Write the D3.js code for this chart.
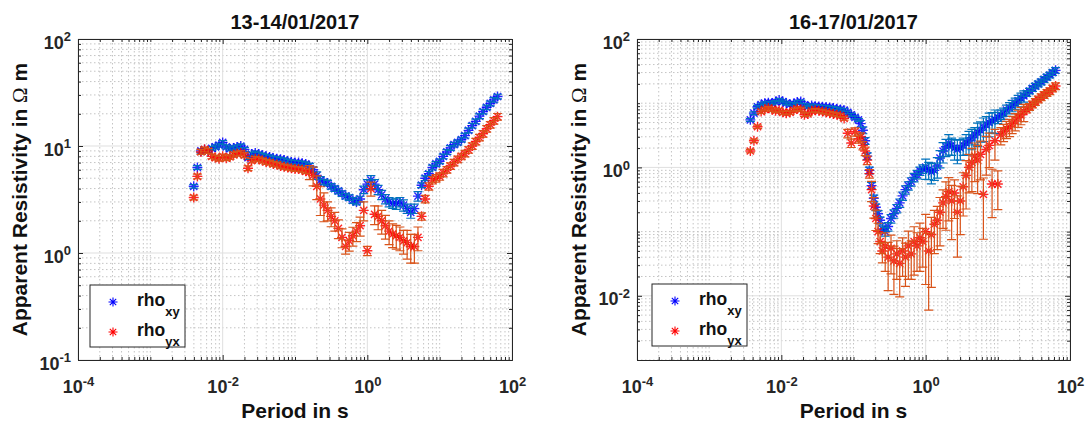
<!DOCTYPE html>
<html lang="en">
<head>
<meta charset="UTF-8" />
<title>Apparent resistivity</title>
<style>
  body { margin: 0; background: #fff; }
  svg { display: block; font-family: "Liberation Sans", Arial, sans-serif; }
  .tick text { font-size: 18px; font-weight: bold; fill: #262626; }
  .axis path, .axis line { stroke: #262626; }
  .grid-major { stroke: #dfdfdf; stroke-width: 1; }
  .grid-minor { stroke: #c4c4c4; stroke-width: 1; stroke-dasharray: 1.5,2.5; }
  .title, .label { font-weight: bold; fill: #111; }
</style>
</head>
<body>
<svg id="chart" width="1088" height="423"></svg>
<script src="https://d3js.org/d3.v7.min.js"></script>
<script>
  // ---- data ----
  const titles = ["13-14/01/2017", "16-17/01/2017"];
  const xTicks = [1e-4, 1e-2, 1, 1e2];
  const yTicksLeft = [1e-1, 1, 10, 100];
  const yTicksRight = [1e-2, 1, 1e2];
  const seriesNames = [["rho", "xy"], ["rho", "yx"]];

  const periodsLeft = [
    0.00398, 0.00447, 0.00501, 0.00562, 0.00631, 0.00708, 0.00794, 0.00891, 0.0100, 0.0112,
    0.0126, 0.0141, 0.0158, 0.0178, 0.0200, 0.0224, 0.0251, 0.0282, 0.0316, 0.0355,
    0.0398, 0.0447, 0.0501, 0.0562, 0.0631, 0.0708, 0.0794, 0.0891, 0.100, 0.112,
    0.126, 0.141, 0.158, 0.178, 0.200, 0.224, 0.251, 0.282, 0.316, 0.355,
    0.398, 0.447, 0.501, 0.562, 0.631, 0.708, 0.794, 0.891, 1.00, 1.12,
    1.26, 1.41, 1.58, 1.78, 2.00, 2.24, 2.51, 2.82, 3.16, 3.55,
    3.98, 4.47, 5.01, 5.62, 6.31, 7.08, 7.94, 8.91, 10.0, 11.2,
    12.6, 14.1, 15.8, 17.8, 20.0, 22.4, 25.1, 28.2, 31.6, 35.5,
    39.8, 44.7, 50.1, 56.2, 63.1
  ];
  const rhoXYLeft = [
    4.2, 6.3, 9.0, 9.2, 9.0, 9.5, 9.8, 10.2, 10.8, 9.8,
    9.4, 9.6, 9.8, 10.0, 9.3, 7.8, 8.4, 8.6, 8.4, 8.2,
    8.0, 7.9, 7.7, 7.6, 7.5, 7.4, 7.2, 7.1, 7.0, 7.0,
    6.9, 6.8, 6.5, 6.0, 5.3, 4.8, 4.6, 4.5, 4.2, 4.0,
    3.8, 3.6, 3.4, 3.3, 3.1, 3.0, 3.2, 3.9, 4.4, 4.8,
    4.4, 3.9, 3.5, 3.2, 3.0, 2.9, 2.9, 3.0, 2.8, 2.6,
    2.4, 2.6, 3.4, 4.3, 5.0, 5.5, 6.3, 6.8, 7.2, 8.0,
    8.8, 9.6, 10.3, 10.8, 11.5, 12.5, 14.0, 15.5, 17.0, 19.0,
    21.0, 23.0, 25.0, 27.0, 29.0
  ];
  const rhoYXLeft = [
    3.3, 5.2, 8.8, 9.3, 9.0, 8.0, 7.8, 7.6, 8.0, 7.7,
    7.9, 8.3, 8.5, 8.6, 8.2, 6.2, 7.3, 7.6, 7.5, 7.3,
    7.1, 7.0, 6.8, 6.7, 6.5, 6.4, 6.3, 6.2, 6.1, 6.1,
    6.0, 5.8, 5.7, 5.3, 4.2, 3.2, 2.8, 2.5, 2.2, 2.0,
    1.7, 1.4, 1.15, 1.3, 1.45, 1.6, 1.8, 2.5, 1.05, 4.0,
    2.3, 2.2, 2.0, 1.8, 1.6, 1.5, 1.45, 1.4, 1.3, 1.25,
    1.15, 1.15, 1.4, 2.2, 3.2, 4.2, 4.8, 5.0, 5.2, 5.6,
    6.0, 6.5, 7.0, 7.5, 8.0, 8.5, 9.2, 10.0, 11.0, 12.0,
    13.0, 14.5, 15.8, 17.2, 18.8
  ];
  // relative errors
  const errXYLeft = [
    0.04, 0.04, 0.04, 0.04, 0.04, 0.04, 0.04, 0.04, 0.04, 0.04,
    0.04, 0.04, 0.04, 0.04, 0.04, 0.04, 0.04, 0.04, 0.04, 0.04,
    0.04, 0.04, 0.04, 0.04, 0.04, 0.04, 0.04, 0.04, 0.04, 0.04,
    0.04, 0.04, 0.06, 0.06, 0.08, 0.08, 0.06, 0.06, 0.06, 0.06,
    0.06, 0.06, 0.06, 0.06, 0.06, 0.06, 0.06, 0.08, 0.1, 0.1,
    0.1, 0.1, 0.1, 0.1, 0.1, 0.1, 0.12, 0.1, 0.12, 0.1,
    0.12, 0.1, 0.1, 0.05, 0.05, 0.05, 0.05, 0.05, 0.05, 0.05,
    0.05, 0.05, 0.05, 0.05, 0.05, 0.05, 0.05, 0.05, 0.05, 0.05,
    0.05, 0.05, 0.05, 0.05, 0.05
  ];
  const errYXLeft = [
    0.05, 0.05, 0.05, 0.05, 0.05, 0.05, 0.05, 0.05, 0.05, 0.05,
    0.05, 0.05, 0.05, 0.05, 0.05, 0.05, 0.05, 0.05, 0.05, 0.05,
    0.05, 0.05, 0.05, 0.05, 0.05, 0.05, 0.05, 0.05, 0.05, 0.05,
    0.05, 0.05, 0.15, 0.2, 0.25, 0.3, 0.3, 0.2, 0.2, 0.2,
    0.2, 0.2, 0.15, 0.2, 0.2, 0.2, 0.2, 0.2, 0.1, 0.15,
    0.2, 0.25, 0.25, 0.25, 0.25, 0.25, 0.25, 0.25, 0.25, 0.3,
    0.3, 0.3, 0.25, 0.08, 0.08, 0.08, 0.08, 0.08, 0.08, 0.08,
    0.07, 0.07, 0.07, 0.07, 0.07, 0.07, 0.07, 0.07, 0.07, 0.07,
    0.07, 0.07, 0.07, 0.07, 0.07
  ];

  const periodsRight = [
    0.00372, 0.00417, 0.00468, 0.00525, 0.00589, 0.00661, 0.00741, 0.00832, 0.00933, 0.0105,
    0.0117, 0.0132, 0.0148, 0.0166, 0.0186, 0.0209, 0.0234, 0.0263, 0.0295, 0.0331,
    0.0372, 0.0417, 0.0468, 0.0525, 0.0589, 0.0661, 0.0741, 0.0832, 0.0933, 0.105,
    0.117, 0.126, 0.135, 0.145, 0.155, 0.166, 0.178, 0.191, 0.204, 0.219,
    0.234, 0.251, 0.275, 0.302, 0.331, 0.363, 0.398, 0.437, 0.479, 0.525,
    0.575, 0.631, 0.692, 0.759, 0.832, 0.912, 1.00, 1.10, 1.20, 1.32,
    1.45, 1.58, 1.74, 1.91, 2.09, 2.29, 2.51, 2.75, 3.02, 3.31,
    3.63, 3.98, 4.37, 4.79, 5.25, 5.75, 6.31, 6.92, 7.59, 8.32,
    9.12, 10.0, 11.0, 12.0, 13.2, 14.5, 15.8, 17.4, 19.1, 20.9,
    22.9, 25.1, 27.5, 30.2, 33.1, 36.3, 39.8, 43.7, 47.9, 52.5,
    57.5, 63.1
  ];
  const rhoXYRight = [
    5.5, 7.0, 8.8, 9.5, 10.0, 10.2, 10.0, 10.5, 11.2, 10.6,
    10.0, 9.6, 9.8, 10.4, 10.6, 9.4, 8.8, 9.2, 9.0, 8.9,
    8.8, 8.7, 8.6, 8.4, 8.2, 8.0, 7.8, 7.2, 6.6, 6.0,
    5.5, 4.8, 3.8, 2.6, 1.5, 0.9, 0.52, 0.33, 0.24, 0.19,
    0.15, 0.11, 0.1, 0.12, 0.16, 0.19, 0.23, 0.28, 0.36, 0.45,
    0.52, 0.6, 0.7, 0.78, 0.88, 0.95, 1.0, 0.92, 0.85, 0.9,
    1.05, 1.4, 1.8, 2.1, 2.4, 2.2, 2.0, 1.9, 2.0, 2.2,
    2.4, 2.6, 2.9, 3.2, 3.5, 3.8, 4.2, 4.6, 5.0, 5.3,
    5.6, 6.0, 6.5, 7.0, 7.8, 8.5, 9.2, 10.0, 11.0, 12.0,
    13.0, 14.2, 15.5, 17.0, 18.5, 20.0, 21.5, 23.5, 25.5, 27.5,
    30.0, 32.5
  ];
  const rhoYXRight = [
    1.8, 2.6, 4.3, 7.4, 8.0, 8.4, 8.0, 7.6, 7.8, 7.2,
    7.0, 7.2, 7.8, 8.2, 8.0, 6.6, 6.8, 7.6, 7.8, 7.6,
    7.4, 7.2, 7.0, 6.8, 6.6, 6.4, 5.8, 3.4, 2.4, 3.6,
    2.8, 3.0, 2.2, 1.8, 1.3, 0.8, 0.45, 0.25, 0.16, 0.1,
    0.07, 0.05, 0.06, 0.04, 0.055, 0.035, 0.045, 0.032, 0.05, 0.04,
    0.06, 0.045, 0.07, 0.06, 0.08, 0.07, 0.1, 0.05, 0.09, 0.13,
    0.15, 0.2, 0.28, 0.35, 0.42, 0.3, 0.4, 0.2, 0.3, 0.5,
    0.75, 1.0, 1.2, 1.5, 1.3, 1.6, 0.38, 1.9, 2.2, 0.55,
    2.6, 0.55, 3.2, 3.6, 4.0, 4.3, 4.8, 5.3, 6.0, 6.6,
    7.4, 8.0, 8.8, 9.6, 10.5, 11.5, 12.5, 13.5, 14.5, 15.5,
    17.0, 18.5
  ];
  const errXYRight = [
    0.05, 0.05, 0.05, 0.05, 0.05, 0.05, 0.05, 0.05, 0.05, 0.05,
    0.05, 0.05, 0.05, 0.05, 0.05, 0.05, 0.05, 0.05, 0.05, 0.05,
    0.05, 0.05, 0.05, 0.05, 0.05, 0.05, 0.05, 0.05, 0.05, 0.05,
    0.05, 0.12, 0.12, 0.12, 0.12, 0.12, 0.12, 0.12, 0.12, 0.12,
    0.12, 0.12, 0.15, 0.15, 0.15, 0.15, 0.15, 0.15, 0.15, 0.15,
    0.15, 0.15, 0.15, 0.15, 0.15, 0.15, 0.35, 0.3, 0.35, 0.3,
    0.35, 0.3, 0.35, 0.3, 0.35, 0.3, 0.35, 0.4, 0.35, 0.3,
    0.35, 0.4, 0.35, 0.3, 0.4, 0.35, 0.4, 0.35, 0.4, 0.35,
    0.4, 0.2, 0.2, 0.2, 0.2, 0.2, 0.2, 0.2, 0.2, 0.2,
    0.2, 0.1, 0.1, 0.1, 0.1, 0.1, 0.1, 0.1, 0.1, 0.1,
    0.1, 0.1
  ];
  const errYXRight = [
    0.06, 0.06, 0.06, 0.06, 0.06, 0.06, 0.06, 0.06, 0.06, 0.06,
    0.06, 0.06, 0.06, 0.06, 0.06, 0.06, 0.06, 0.06, 0.06, 0.06,
    0.06, 0.06, 0.06, 0.06, 0.06, 0.06, 0.06, 0.15, 0.15, 0.15,
    0.15, 0.15, 0.15, 0.15, 0.15, 0.15, 0.35, 0.35, 0.35, 0.35,
    0.35, 0.35, 0.6, 0.7, 0.6, 0.7, 0.6, 0.7, 0.6, 0.65,
    0.7, 0.6, 0.7, 0.6, 0.7, 0.6, 0.85, 0.88, 0.85, 0.65,
    0.65, 0.7, 0.6, 0.7, 0.65, 0.75, 0.6, 0.8, 0.7, 0.65,
    0.7, 0.6, 0.65, 0.6, 0.7, 0.6, 0.8, 0.6, 0.55, 0.7,
    0.5, 0.6, 0.3, 0.3, 0.3, 0.3, 0.3, 0.3, 0.3, 0.3,
    0.3, 0.12, 0.12, 0.12, 0.12, 0.12, 0.12, 0.12, 0.12, 0.12,
    0.12, 0.12
  ];

  // ---- layout ----
  const svg = d3.select("#chart");
  const plotTop = 39, plotBottom = 360;
  const colors = {
    xyMarker: "#0000ff", yxMarker: "#ff0000",
    xyBar: "#0072bd", yxBar: "#d95319", axis: "#262626"
  };
  const asterisk = "M-5,0H5M0,-5V5M-3.6,-3.6L3.6,3.6M-3.6,3.6L3.6,-3.6";
  const legendAsterisk = "M-4.5,0H4.5M0,-4.5V4.5M-3.2,-3.2L3.2,3.2M-3.2,3.2L3.2,-3.2";

  const panels = [
    { title: titles[0], periods: periodsLeft, xy: rhoXYLeft, yx: rhoYXLeft,
      exy: errXYLeft, eyx: errYXLeft, yDomain: [1e-1, 1e2], yTicks: yTicksLeft,
      left: 78, right: 512, legendX: 90, legendY: 285 },
    { title: titles[1], periods: periodsRight, xy: rhoXYRight, yx: rhoYXRight,
      exy: errXYRight, eyx: errYXRight, yDomain: [1e-3, 1e2], yTicks: yTicksRight,
      left: 637, right: 1070, legendX: 652, legendY: 284 }
  ];

  function minorValues(domain, majors) {
    const out = [];
    const lo = Math.floor(Math.log10(domain[0]) + 1e-9);
    const hi = Math.ceil(Math.log10(domain[1]) - 1e-9);
    for (let d = lo; d < hi; d++) {
      for (let m = 1; m < 10; m++) {
        const v = m * Math.pow(10, d);
        if (v < domain[0] * 0.999 || v > domain[1] * 1.001) continue;
        if (majors.some(t => Math.abs(t - v) / v < 1e-6)) continue;
        out.push(v);
      }
    }
    return out;
  }

  function powerLabel(sel) {
    sel.each(function (d) {
      const t = d3.select(this);
      const e = Math.round(Math.log10(d));
      t.text(null);
      t.append("tspan").text("10");
      t.append("tspan").attr("dy", "-0.55em").attr("font-size", "13px").text(e);
    });
  }

  panels.forEach((p, pi) => {
    const g = svg.append("g");
    const x = d3.scaleLog().domain([1e-4, 1e2]).range([p.left, p.right]);
    const y = d3.scaleLog().domain(p.yDomain).range([plotBottom, plotTop]);
    const xMinor = minorValues(x.domain(), xTicks);
    const yMinor = minorValues(y.domain(), p.yTicks);

    // grid
    const grid = g.append("g");
    grid.selectAll(".gx-minor").data(xMinor).join("line")
      .attr("class", "grid-minor")
      .attr("x1", d => x(d)).attr("x2", d => x(d))
      .attr("y1", plotTop).attr("y2", plotBottom);
    grid.selectAll(".gy-minor").data(yMinor).join("line")
      .attr("class", "grid-minor")
      .attr("x1", p.left).attr("x2", p.right)
      .attr("y1", d => y(d)).attr("y2", d => y(d));
    grid.selectAll(".gx-major").data(xTicks).join("line")
      .attr("class", "grid-major")
      .attr("x1", d => x(d)).attr("x2", d => x(d))
      .attr("y1", plotTop).attr("y2", plotBottom);
    grid.selectAll(".gy-major").data(p.yTicks).join("line")
      .attr("class", "grid-major")
      .attr("x1", p.left).attr("x2", p.right)
      .attr("y1", d => y(d)).attr("y2", d => y(d));

    // data, clipped to the axes box
    const clipId = "clip" + pi;
    svg.append("clipPath").attr("id", clipId).append("rect")
      .attr("x", p.left).attr("y", plotTop)
      .attr("width", p.right - p.left).attr("height", plotBottom - plotTop);
    const plot = g.append("g").attr("clip-path", `url(#${clipId})`);

    const series = [
      { vals: p.xy, err: p.exy, marker: colors.xyMarker, bar: colors.xyBar },
      { vals: p.yx, err: p.eyx, marker: colors.yxMarker, bar: colors.yxBar }
    ];
    series.forEach(s => {
      const pts = p.periods.map((t, i) => ({ t, v: s.vals[i], e: s.err[i] }));
      plot.append("g").selectAll("path").data(pts).join("path")
        .attr("d", asterisk)
        .attr("transform", d => `translate(${x(d.t)},${y(d.v)})`)
        .attr("fill", "none").attr("stroke", s.marker).attr("stroke-width", 1.4)
        .attr("stroke-opacity", 0.85);
      const bars = plot.append("g").attr("stroke", s.bar).attr("stroke-width", 1.2)
        .attr("fill", "none");
      bars.selectAll("path").data(pts).join("path")
        .attr("d", d => {
          const cx = x(d.t), y0 = y(d.v * (1 - d.e)), y1 = y(d.v * (1 + d.e));
          return `M${cx},${y0}V${y1}M${cx - 4.5},${y0}H${cx + 4.5}M${cx - 4.5},${y1}H${cx + 4.5}`;
        });
    });

    // axes (ticks point inwards, box on)
    const ax = g.append("g");
    ax.append("g").attr("class", "axis").attr("transform", `translate(0,${plotBottom})`)
      .call(d3.axisBottom(x).tickValues(xMinor).tickSize(-3).tickSizeOuter(0).tickFormat(""));
    ax.append("g").attr("class", "axis").attr("transform", `translate(0,${plotTop})`)
      .call(d3.axisTop(x).tickValues(xMinor).tickSize(-3).tickSizeOuter(0).tickFormat(""));
    ax.append("g").attr("class", "axis").attr("transform", `translate(${p.left},0)`)
      .call(d3.axisLeft(y).tickValues(yMinor).tickSize(-3).tickSizeOuter(0).tickFormat(""));
    ax.append("g").attr("class", "axis").attr("transform", `translate(${p.right},0)`)
      .call(d3.axisRight(y).tickValues(yMinor).tickSize(-3).tickSizeOuter(0).tickFormat(""));

    ax.append("g").attr("class", "axis").attr("transform", `translate(0,${plotTop})`)
      .call(d3.axisTop(x).tickValues(xTicks).tickSize(-5).tickSizeOuter(0).tickFormat(""));
    ax.append("g").attr("class", "axis").attr("transform", `translate(${p.right},0)`)
      .call(d3.axisRight(y).tickValues(p.yTicks).tickSize(-5).tickSizeOuter(0).tickFormat(""));

    const xAxis = ax.append("g").attr("class", "axis").attr("transform", `translate(0,${plotBottom})`)
      .call(d3.axisBottom(x).tickValues(xTicks).tickSize(-5).tickSizeOuter(0));
    xAxis.selectAll(".tick text").attr("y", 33).attr("dy", null).call(powerLabel);

    const yAxis = ax.append("g").attr("class", "axis").attr("transform", `translate(${p.left},0)`)
      .call(d3.axisLeft(y).tickValues(p.yTicks).tickSize(-5).tickSizeOuter(0).tickPadding(7));
    yAxis.selectAll(".tick text").attr("dy", "0.5em").call(powerLabel);

    // titles and labels
    const cx = (p.left + p.right) / 2;
    g.append("text").attr("class", "title")
      .attr("x", cx).attr("y", 29).attr("text-anchor", "middle")
      .attr("font-size", 20).text(p.title);
    g.append("text").attr("class", "label")
      .attr("x", cx).attr("y", 418).attr("text-anchor", "middle")
      .attr("font-size", 21).text("Period in s");
    const yl = g.append("text").attr("class", "label")
      .attr("transform", `translate(${p.left - 51},${(plotTop + plotBottom) / 2}) rotate(-90)`)
      .attr("text-anchor", "middle").attr("font-size", 21);
    yl.append("tspan").text("Apparent Resistivity in ");
    yl.append("tspan").attr("font-family", "'Liberation Serif', serif")
      .attr("font-weight", "normal").text("Ω");
    yl.append("tspan").text(" m");

    // legend
    const lg = g.append("g").attr("transform", `translate(${p.legendX},${p.legendY})`);
    lg.append("rect").attr("width", 95).attr("height", 62)
      .attr("fill", "#fff").attr("stroke", colors.axis).attr("stroke-width", 1);
    [colors.xyMarker, colors.yxMarker].forEach((c, i) => {
      const ry = 17 + i * 30;
      lg.append("path").attr("d", legendAsterisk)
        .attr("transform", `translate(23,${ry})`)
        .attr("fill", "none").attr("stroke", c).attr("stroke-width", 1.1);
      const tx = lg.append("text").attr("x", 47).attr("y", ry + 4)
        .attr("font-weight", "bold").attr("font-size", 17.5).attr("fill", "#111");
      tx.append("tspan").text(seriesNames[i][0]);
      tx.append("tspan").attr("dy", 10).attr("font-size", 13).text(seriesNames[i][1]);
    });
  });
</script>
</body>
</html>
